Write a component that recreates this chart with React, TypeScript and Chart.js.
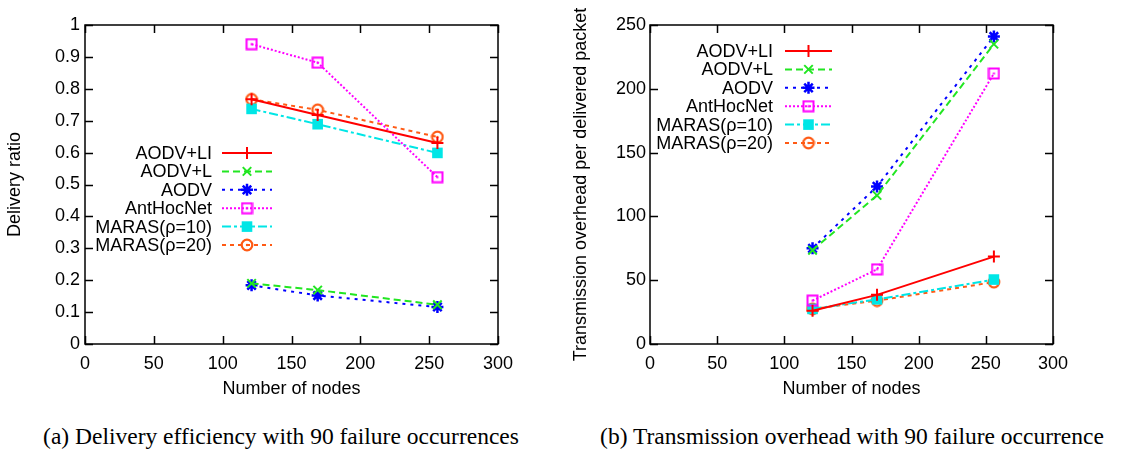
import React, { useEffect, useRef } from 'react';
import { Chart, registerables } from 'chart.js';
import { drawPoint } from 'chart.js/helpers';

Chart.register(...registerables);

// ---------- data ----------
const nodes = [121, 169, 256];
const seriesNames = ['AODV+LI', 'AODV+L', 'AODV', 'AntHocNet', 'MARAS(ρ=10)', 'MARAS(ρ=20)'];

const deliveryAODVLI = [0.767, 0.718, 0.63];
const deliveryAODVL = [0.19, 0.169, 0.123];
const deliveryAODV = [0.184, 0.152, 0.116];
const deliveryAntHocNet = [0.94, 0.882, 0.523];
const deliveryMARAS10 = [0.737, 0.689, 0.599];
const deliveryMARAS20 = [0.767, 0.734, 0.649];

const overheadAODVLI = [26, 38.5, 68.5];
const overheadAODVL = [73.5, 116.5, 235];
const overheadAODV = [75, 123.5, 241];
const overheadAntHocNet = [34, 58.5, 212];
const overheadMARAS10 = [27.5, 35, 50.5];
const overheadMARAS20 = [27.5, 34, 48.5];

const xMin = 0;
const xMax = 300;
const xStep = 50;
const deliveryMax = 1;
const deliveryStep = 0.1;
const overheadMax = 250;
const overheadStep = 50;

const captionA = '(a) Delivery efficiency with 90 failure occurrences';
const captionB = '(b) Transmission overhead with 90 failure occurrence';
const xTitle = 'Number of nodes';
const yTitleA = 'Delivery ratio';
const yTitleB = 'Transmission overhead per delivered packet';

// ---------- styles ----------
const FONT = '"Liberation Sans", Arial, Helvetica, sans-serif';
const FS = 18;
const colors = ['#ff0000', '#22e622', '#0000ff', '#ff00ff', '#00e6e6', '#ff5a14'];
const dashes: number[][] = [[], [7, 4], [3, 5], [2, 2], [9, 3, 3, 3], [4, 4]];

function squareDot(color: string) {
  const c = document.createElement('canvas');
  c.width = 13;
  c.height = 13;
  const ctx = c.getContext('2d')!;
  ctx.strokeStyle = color;
  ctx.lineWidth = 2;
  ctx.strokeRect(1.5, 1.5, 10, 10);
  ctx.fillStyle = color;
  ctx.fillRect(5.5, 5.5, 2, 2);
  return c;
}

function circleDot(color: string) {
  const c = document.createElement('canvas');
  c.width = 14;
  c.height = 14;
  const ctx = c.getContext('2d')!;
  ctx.strokeStyle = color;
  ctx.lineWidth = 2.2;
  ctx.beginPath();
  ctx.arc(7, 7, 5.3, 0, Math.PI * 2);
  ctx.stroke();
  ctx.fillStyle = color;
  ctx.beginPath();
  ctx.arc(7, 7, 1.2, 0, Math.PI * 2);
  ctx.fill();
  return c;
}

function buildDatasets(series: number[][]) {
  const styles: any[] = [
    { pointStyle: 'cross', pointRadius: 6, pointBorderWidth: 2 },
    { pointStyle: 'crossRot', pointRadius: 6, pointBorderWidth: 2 },
    { pointStyle: 'star', pointRadius: 6, pointBorderWidth: 2.5 },
    { pointStyle: squareDot(colors[3]), pointRadius: 6, pointBorderWidth: 0 },
    { pointStyle: 'rect', pointRadius: 7.5, pointBorderWidth: 0 },
    { pointStyle: circleDot(colors[5]), pointRadius: 6, pointBorderWidth: 0 },
  ];
  return series.map((vals, i) => ({
    label: seriesNames[i],
    data: nodes.map((x, j) => ({ x, y: vals[j] })),
    borderColor: colors[i],
    backgroundColor: colors[i],
    pointBorderColor: colors[i],
    pointBackgroundColor: colors[i],
    borderWidth: 2,
    borderDash: dashes[i],
    tension: 0,
    fill: false,
    ...styles[i],
  }));
}

const gnuplotPlugin = {
  id: 'gnuplotFrame',
  afterDatasetsDraw(chart: any, _args: any, opts: any) {
    const { ctx, chartArea } = chart;
    const { left, right, top, bottom } = chartArea;
    const xs = chart.scales.x;
    const ys = chart.scales.y;
    ctx.save();
    ctx.setLineDash([]);
    ctx.strokeStyle = '#000';
    ctx.lineWidth = 1.5;
    ctx.strokeRect(left, top, right - left, bottom - top);
    const tl = 8;
    ctx.beginPath();
    xs.ticks.forEach((t: any) => {
      const px = Math.round(xs.getPixelForValue(t.value)) + 0.5;
      ctx.moveTo(px, bottom);
      ctx.lineTo(px, bottom - tl);
      ctx.moveTo(px, top);
      ctx.lineTo(px, top + tl);
    });
    ys.ticks.forEach((t: any) => {
      const py = Math.round(ys.getPixelForValue(t.value)) + 0.5;
      ctx.moveTo(left, py);
      ctx.lineTo(left + tl, py);
      ctx.moveTo(right, py);
      ctx.lineTo(right - tl, py);
    });
    ctx.stroke();

    // key
    const textRight = left + opts.textRight;
    const sampleL = left + opts.sampleLeft;
    const sampleR = left + opts.sampleRight;
    chart.data.datasets.forEach((ds: any, i: number) => {
      const y = top + opts.top + i * opts.row;
      ctx.font = `${FS}px ${FONT}`;
      ctx.fillStyle = '#000';
      ctx.textAlign = 'right';
      ctx.textBaseline = 'middle';
      ctx.fillText(ds.label, textRight, y + 1);
      ctx.strokeStyle = ds.borderColor;
      ctx.lineWidth = ds.borderWidth;
      ctx.setLineDash(ds.borderDash || []);
      ctx.beginPath();
      ctx.moveTo(sampleL, y);
      ctx.lineTo(sampleR, y);
      ctx.stroke();
      ctx.setLineDash([]);
      ctx.fillStyle = ds.pointBackgroundColor;
      ctx.strokeStyle = ds.pointBorderColor;
      ctx.lineWidth = ds.pointBorderWidth;
      drawPoint(
        ctx,
        { pointStyle: ds.pointStyle, radius: ds.pointRadius, rotation: 0, borderWidth: ds.pointBorderWidth },
        (sampleL + sampleR) / 2,
        y
      );
    });
    ctx.restore();
  },
};

const fmtTick = (v: any) => String(Number(Number(v).toFixed(2)));

function makeConfig(
  series: number[][],
  yMax: number,
  yStep: number,
  yTitle: string,
  layoutRight: number,
  yAxisWidth: number,
  yTickPad: number,
  key: any
): any {
  return {
    type: 'line',
    data: { datasets: buildDatasets(series) },
    plugins: [gnuplotPlugin],
    options: {
      animation: false,
      responsive: false,
      layout: { padding: { left: 0, top: 25, right: layoutRight, bottom: 0 } },
      plugins: {
        legend: { display: false },
        tooltip: { enabled: false },
        gnuplotFrame: key,
      },
      scales: {
        x: {
          type: 'linear',
          min: xMin,
          max: xMax,
          grid: { display: false, drawTicks: false },
          border: { display: false },
          ticks: { stepSize: xStep, padding: 9, color: '#000', font: { size: FS, family: FONT }, maxRotation: 0, callback: fmtTick },
          title: { display: true, text: xTitle, color: '#000', font: { size: FS, family: FONT }, padding: { top: 0, bottom: 0 } },
          afterFit: (s: any) => {
            s.height = 56;
          },
        },
        y: {
          type: 'linear',
          min: 0,
          max: yMax,
          grid: { display: false, drawTicks: false },
          border: { display: false },
          ticks: { stepSize: yStep, padding: yTickPad, color: '#000', font: { size: FS, family: FONT }, callback: fmtTick },
          title: { display: true, text: yTitle, color: '#000', font: { size: FS, family: FONT }, padding: { top: 4.5, bottom: 0 } },
          afterFit: (s: any) => {
            s.width = yAxisWidth;
          },
        },
      },
    },
  };
}

function ChartCanvas({ config, left }: { config: () => any; left: number }) {
  const ref = useRef<HTMLCanvasElement>(null);
  useEffect(() => {
    const chart = new Chart(ref.current!, config());
    return () => chart.destroy();
  }, []);
  return (
    <canvas
      ref={ref}
      width={566}
      height={400}
      style={{ position: 'absolute', left, top: 0, width: 566, height: 400, display: 'block' }}
    />
  );
}

export default function App() {
  const captionStyle: React.CSSProperties = {
    position: 'absolute',
    top: 422,
    fontFamily: '"Liberation Serif", "Times New Roman", serif',
    fontSize: 23.5,
    lineHeight: '28px',
    whiteSpace: 'nowrap',
    color: '#000',
    textAlign: 'center',
    width: 566,
  };
  return (
    <div style={{ position: 'fixed', left: 0, top: 0, width: 1132, height: 453, background: '#fff', overflow: 'hidden' }}>
      <ChartCanvas
        left={0}
        config={() =>
          makeConfig(
            [deliveryAODVLI, deliveryAODVL, deliveryAODV, deliveryAntHocNet, deliveryMARAS10, deliveryMARAS20],
            deliveryMax,
            deliveryStep,
            yTitleA,
            68,
            85,
            5,
            { textRight: 127, sampleLeft: 137, sampleRight: 187, top: 128, row: 18.4 }
          )
        }
      />
      <ChartCanvas
        left={566}
        config={() =>
          makeConfig(
            [overheadAODVLI, overheadAODVL, overheadAODV, overheadAntHocNet, overheadMARAS10, overheadMARAS20],
            overheadMax,
            overheadStep,
            yTitleB,
            79,
            84,
            4,
            { textRight: 123, sampleLeft: 135, sampleRight: 182, top: 26, row: 18.4 }
          )
        }
      />
      <div style={{ ...captionStyle, left: -2 }}>{captionA}</div>
      <div style={{ ...captionStyle, left: 569 }}>{captionB}</div>
    </div>
  );
}
